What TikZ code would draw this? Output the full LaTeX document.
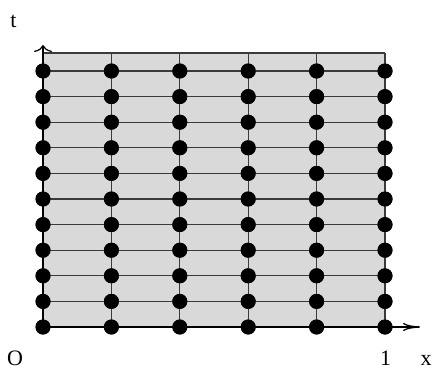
\documentclass[tikz,border=0pt]{standalone}
\usepackage{fontspec}
\setmainfont{Liberation Serif}
\usetikzlibrary{arrows.meta}
\definecolor{fillgray}{HTML}{D9D9D9}
\definecolor{linegray}{HTML}{3A3A3A}
\tikzset{
  dot/.style={circle,fill=black,inner sep=0pt,minimum size=15pt},
  gridline/.style={draw=linegray,line width=1.3pt},
  axis/.style={draw=black,line width=1.6pt},
  lbl/.style={font=\fontsize{22}{26}\selectfont,inner sep=0pt,anchor=base}
}
\begin{document}
\begin{tikzpicture}[x=1pt,y=-1pt]
\useasboundingbox (0,0) rectangle (433,372);
\fill[fillgray] (43,327) rectangle (385,53);
% columns and rows of dots
\foreach \i in {0,...,5}{
  \coordinate (top\i) at ({43+68.4*\i},53);
  \foreach \j in {0,...,10}{
    \node[dot] (d\i-\j) at ({43+68.4*\i},{327-25.6*\j}) {};
  }
}
% grid lines
\foreach \j in {1,...,10}{
  \draw[gridline] (d0-\j.center) -- (d5-\j.center);
}
\foreach \i in {1,...,5}{
  \draw[gridline] (d\i-0.center) -- (top\i);
}
\draw[gridline] (top0) -- (top5);
% axes
\coordinate (ytip) at (43,45);
\coordinate (xtip) at (420,327);
\draw[axis,-{To[length=7pt,width=18pt,line width=1.2pt]}] (d0-0.center) -- (ytip);
\draw[axis,-{To[length=17pt,width=8pt,line width=1.2pt]}] (d0-0.center) -- (xtip);
% redraw dots over lines
\foreach \i in {0,...,5}{
  \foreach \j in {0,...,10}{
    \fill (d\i-\j) circle (7.5pt);
  }
}
% labels
\node[lbl] (lt) at (13.5,27) {t};
\node[lbl] (lo) at (15,365) {O};
\node[lbl] (l1) at (385.5,365) {1};
\node[lbl] (lx) at (426,365) {x};
\end{tikzpicture}
\end{document}
